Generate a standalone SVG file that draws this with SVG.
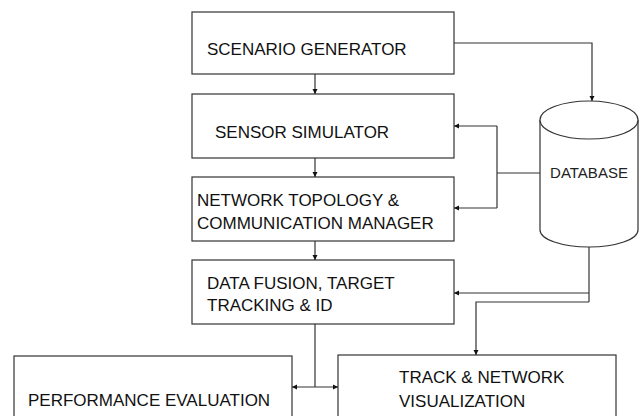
<svg xmlns="http://www.w3.org/2000/svg" width="643" height="416" viewBox="0 0 643 416">
<defs>
<marker id="ah" markerWidth="6" markerHeight="6" refX="5" refY="3" orient="auto" markerUnits="userSpaceOnUse">
<path d="M0,0.5 L5,3 L0,5.5 Z" fill="#111"/>
</marker>
<marker id="ahs" markerWidth="6" markerHeight="6" refX="0" refY="3" orient="auto" markerUnits="userSpaceOnUse">
<path d="M5,0.5 L0,3 L5,5.5 Z" fill="#111"/>
</marker>
</defs>
<style>
.box{fill:#fff;stroke:#333;stroke-width:1.2}
.t{font-family:"Liberation Sans",Arial,sans-serif;font-size:17px;fill:#111}
.db{font-family:"Liberation Sans",Arial,sans-serif;font-size:15px;fill:#222}
.c{fill:none;stroke:#333;stroke-width:1.2}
</style>
<rect width="643" height="416" fill="#fff"/>
<g id="scenario-generator">
<rect class="box" x="192" y="12" width="262" height="62"/>
<text class="t" x="207" y="55">SCENARIO GENERATOR</text>
</g>
<g id="sensor-simulator">
<rect class="box" x="192" y="94" width="262" height="64"/>
<text class="t" x="215" y="138">SENSOR SIMULATOR</text>
</g>
<g id="network-topology">
<rect class="box" x="192" y="177" width="262" height="64"/>
<text class="t" x="197" y="206">NETWORK TOPOLOGY &amp;</text>
<text class="t" x="197" y="229">COMMUNICATION MANAGER</text>
</g>
<g id="data-fusion">
<rect class="box" x="192" y="260" width="262" height="64"/>
<text class="t" x="207" y="289">DATA FUSION, TARGET</text>
<text class="t" x="207" y="311">TRACKING &amp; ID</text>
</g>
<g id="performance-evaluation">
<rect class="box" x="14" y="356" width="278" height="70"/>
<text class="t" x="28" y="406">PERFORMANCE EVALUATION</text>
</g>
<g id="track-visualization">
<rect class="box" x="338" y="355" width="278" height="70"/>
<text class="t" x="399" y="383">TRACK &amp; NETWORK</text>
<text class="t" x="399" y="407">VISUALIZATION</text>
</g>
<g id="database">
<path d="M540,120 V230 A49,17 0 0 0 638,230 V120" fill="#fff" stroke="#333" stroke-width="1.2"/>
<ellipse cx="589" cy="120" rx="49" ry="19" fill="#fff" stroke="#333" stroke-width="1.2"/>
<text class="db" x="589" y="178" text-anchor="middle">DATABASE</text>
</g>
<g id="connectors">
<path class="c" d="M315,74 V94" marker-end="url(#ah)"/>
<path class="c" d="M315,158 V177" marker-end="url(#ah)"/>
<path class="c" d="M315,241 V260" marker-end="url(#ah)"/>
<path class="c" d="M454,43 H592 V101" marker-end="url(#ah)"/>
<path class="c" d="M540,173 H497"/>
<path class="c" d="M497,126 V208"/>
<path class="c" d="M497,126 H454" marker-end="url(#ah)"/>
<path class="c" d="M497,208 H454" marker-end="url(#ah)"/>
<path class="c" d="M589,247 V302"/>
<path class="c" d="M589,293 H454" marker-end="url(#ah)"/>
<path class="c" d="M589,302 H476 V355" marker-end="url(#ah)"/>
<path class="c" d="M315,324 V387"/>
<path class="c" d="M292,387 H338" marker-start="url(#ahs)" marker-end="url(#ah)"/>
</g>
</svg>
